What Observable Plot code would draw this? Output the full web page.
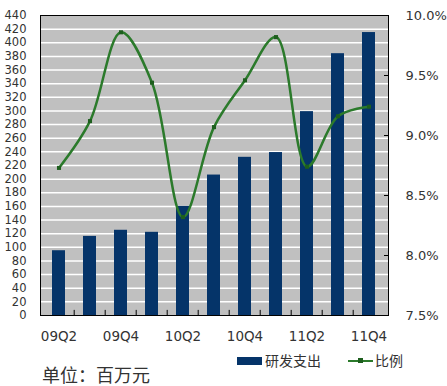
<!DOCTYPE html>
<html>
<head>
<meta charset="utf-8">
<script src="https://cdn.jsdelivr.net/npm/d3@7"></script>
<script src="https://cdn.jsdelivr.net/npm/@observablehq/plot@0.6"></script>
<style>
  html, body { margin: 0; padding: 0; background: #fff; }
  #wrap { position: relative; width: 447px; height: 386px; overflow: hidden; font-family: "DejaVu Sans", sans-serif; }
  #chart { position: absolute; left: 0; top: 0; }
  .lg { position: absolute; font-family: "Noto Sans CJK SC", sans-serif; color: #333; white-space: nowrap; }
</style>
</head>
<body>
<div id="wrap">
  <div id="chart"></div>
  <div class="lg" style="left:237px; top:357px; width:25px; height:8px; background:#053469;"></div>
  <div class="lg" style="left:265px; top:350px; font-size:14px; line-height:20px;">研发支出</div>
  <div class="lg" style="left:348px; top:360px; width:25px; height:2px; background:#2b7a2b;"></div>
  <div class="lg" style="left:358px; top:358px; width:5px; height:5px; background:#1d5e1d;"></div>
  <div class="lg" style="left:375px; top:350px; font-size:14px; line-height:20px;">比例</div>
  <div class="lg" style="left:42px; top:362px; font-size:18px; line-height:24px;">单位&#xFF1A;百万元</div>
</div>
<script>
const quarters = ["09Q2","09Q3","09Q4","10Q1","10Q2","10Q3","10Q4","11Q1","11Q2","11Q3","11Q4"];
const rdSpend = [95,116,125,122,160,206,232,239,299,384,415];
const ratioPct = [8.73,9.12,9.86,9.44,8.32,9.07,9.46,9.82,8.74,9.16,9.24];
const xLabels = ["09Q2","09Q4","10Q2","10Q4","11Q2","11Q4"];
const leftTicks = [0,20,40,60,80,100,120,140,160,180,200,220,240,260,280,300,320,340,360,380,400,420,440];
const gridLines = [20,40,60,80,100,120,140,160,180,200,220,240,260,280,300,320,340,360,380,400,420];
const rightTicks = [7.5,8.0,8.5,9.0,9.5,10.0];
const rightInnerTicks = [8.0,8.5,9.0,9.5];

const yMax = 440, pMin = 7.5, pMax = 10.0;
const pToY = p => (p - pMin) / (pMax - pMin) * yMax;
const yToP = y => pMin + y / yMax * (pMax - pMin);

const bars = quarters.map((q, i) => ({q, v: rdSpend[i]}));
const line = quarters.map((q, i) => ({q, p: ratioPct[i], y: pToY(ratioPct[i])}));

const chart = Plot.plot({
  width: 447,
  height: 340,
  marginLeft: 40,
  marginRight: 59,
  marginTop: 15,
  marginBottom: 25,
  style: {fontFamily: "DejaVu Sans, sans-serif", fontSize: "13px", color: "#333", background: "transparent", overflow: "visible"},
  x: {domain: quarters, paddingInner: 0.58, paddingOuter: 0.29, label: null},
  y: {domain: [0, yMax], label: null},
  marks: [
    Plot.frame({fill: "#c0c0c0", stroke: null}),
    Plot.ruleY(gridLines, {stroke: "#fff", strokeWidth: 1.5}),
    Plot.barY(bars, {x: "q", y: "v", fill: "#053469"}),
    Plot.ruleX(quarters.slice(1), {x: d => d, y1: 0, y2: 7.5, stroke: "#000", dx: -15.8}),
    Plot.line(line, {x: "q", y: "y", stroke: "#2b7a2b", strokeWidth: 2.5, curve: "catmull-rom"}),
    Plot.dot(line, {x: "q", y: "y", symbol: "square", r: 2.3, fill: "#1d5e1d", stroke: null}),
    Plot.frame({stroke: "#000", strokeWidth: 1}),
    Plot.axisY(leftTicks, {anchor: "left", tickSize: 0, tickPadding: 14, fontSize: 11.5, fill: "#333"}),
    Plot.axisY(rightInnerTicks.map(pToY), {anchor: "right", tickSize: -5, tickFormat: () => "", stroke: "#000"}),
    Plot.axisY(rightTicks.map(pToY), {anchor: "right", tickSize: 0, tickPadding: 17, fontSize: 13, fill: "#333",
      tickFormat: v => yToP(v).toFixed(1) + "%"}),
    Plot.axisX(xLabels, {anchor: "bottom", tickSize: 0, tickPadding: 16, fontSize: 13.5, fill: "#333"})
  ]
});
document.getElementById("chart").appendChild(chart);
</script>
</body>
</html>
